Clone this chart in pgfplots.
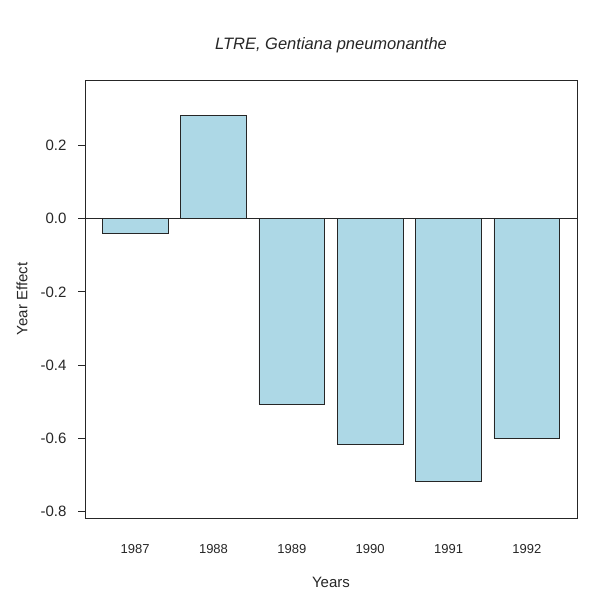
\documentclass[border=0pt]{standalone}
\usepackage{pgfplots}
\pgfplotsset{compat=1.18}
\usepackage{fontspec}
\setmainfont{Liberation Sans}
\definecolor{lb}{HTML}{ADD8E6}
\begin{document}
\begin{tikzpicture}[x=1bp,y=1bp]
\useasboundingbox (0,0) rectangle (602,608);
\begin{axis}[at={(85bp,90bp)}, anchor=south west, scale only axis,
  width=492bp, height=438bp,
  xmin=-0.64, xmax=5.64, ymin=-0.819, ymax=0.38,
  xtick={0,1,2,3,4,5}, xticklabels={1987,1988,1989,1990,1991,1992},
  ytick={-0.8,-0.6,-0.4,-0.2,0,0.2},
  yticklabels={-0.8,-0.6,-0.4,-0.2,0.0,0.2},
  ytick pos=left, tick align=outside, major tick length=7bp,
  xtick style={draw=none},
  axis line style={line width=0.8bp, black!85},
  ytick style={line width=0.8bp, black!85},
  xticklabel style={anchor=center, yshift=-24bp, font=\fontsize{13bp}{15bp}\selectfont, text=black!85},
  yticklabel style={xshift=-8bp, font=\fontsize{15bp}{18bp}\selectfont, text=black!85},
  title={LTRE, \textit{Gentiana pneumonanthe}},
  title style={at={(axis description cs:0.5,1.066)}, anchor=center, font=\itshape\fontsize{16.5bp}{19bp}\selectfont, text=black!85},
  xlabel={Years},
  xlabel style={at={(axis description cs:0.5,-0.146)}, anchor=center, font=\fontsize{15bp}{18bp}\selectfont, text=black!85},
  ylabel={Year Effect},
  ylabel style={at={(axis description cs:-0.128,0.5)}, anchor=center, font=\fontsize{15bp}{18bp}\selectfont, text=black!85},
  /pgf/number format/assume math mode=true,
]
\addplot[ybar, bar width=0.84, fill=lb, draw=black!85, line width=0.8bp] coordinates {
  (0,-0.041) (1,0.284) (2,-0.508) (3,-0.618) (4,-0.720) (5,-0.602)};
\addplot[black!85, line width=0.8bp] coordinates {(-0.64,0) (5.64,0)};
\end{axis}
\end{tikzpicture}
\end{document}
